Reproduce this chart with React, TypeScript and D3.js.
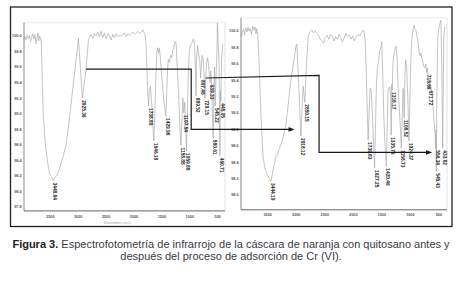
import React from 'react';
import * as d3 from 'd3';

// ---------- DATA ----------
const xTicks = [3500, 3000, 2500, 2000, 1500, 1000, 500];
const leftYTicks = [100.0, 99.8, 99.6, 99.4, 99.2, 99.0, 98.8, 98.6, 98.4, 98.2, 98.0, 97.8];
const rightYTicks = [100.0, 99.8, 99.6, 99.4, 99.2, 99.0, 98.8, 98.6, 98.4, 98.2, 98.0];

// before adsorption: [wavenumber cm-1, %T]
const leftBase: [number, number][] = [
  [3975, 99.96], [3955, 99.99], [3935, 99.95], [3915, 100.01], [3895, 99.97], [3875, 100.0], [3855, 99.93],
  [3835, 99.98], [3815, 100.03], [3795, 99.96], [3775, 100.02], [3755, 99.9], [3738, 99.98], [3722, 100.04],
  [3706, 99.94], [3690, 100.0], [3675, 99.97], [3660, 99.92], [3640, 99.3], [3625, 98.98], [3593, 98.64],
  [3550, 98.38], [3514, 98.23], [3475, 98.18], [3420, 98.18], [3390, 98.2], [3360, 98.24], [3325, 98.32],
  [3264, 98.47], [3218, 98.6], [3187, 98.77], [3157, 98.94], [3080, 99.43], [2996, 99.97], [2960, 99.58],
  [2890, 99.4], [2861, 99.56], [2818, 99.94], [2800, 99.98], [2770, 100.02], [2740, 99.97], [2710, 100.03],
  [2680, 100.0], [2650, 100.05], [2620, 99.99], [2590, 100.06], [2560, 99.98], [2530, 100.04], [2500, 99.96],
  [2470, 100.03], [2440, 100.0], [2410, 99.95], [2380, 100.02], [2350, 99.98], [2320, 100.03], [2290, 99.99],
  [2260, 100.01], [2230, 100.0], [2200, 100.02], [2170, 100.04], [2140, 99.99], [2110, 100.03], [2080, 100.01],
  [2050, 100.03], [2020, 100.05], [1990, 100.02], [1960, 100.04], [1930, 100.06], [1900, 100.03], [1870, 100.05],
  [1840, 100.08], [1820, 100.04], [1800, 100.02], [1785, 99.9], [1770, 99.6], [1752, 99.25], [1725, 99.3],
  [1705, 99.35], [1680, 99.1], [1662, 98.85], [1630, 98.95], [1610, 99.45], [1590, 99.8], [1575, 99.85],
  [1560, 99.78], [1545, 99.84], [1525, 99.7], [1500, 99.45], [1470, 99.2], [1445, 99.05], [1415, 99.25],
  [1400, 99.55], [1385, 99.7], [1365, 99.66], [1345, 99.75], [1325, 99.72], [1305, 99.82], [1285, 99.86],
  [1262, 99.93], [1245, 99.9], [1225, 99.6], [1200, 99.25], [1180, 98.85], [1140, 98.95], [1125, 99.2],
  [1090, 99.15], [1072, 98.8], [1045, 98.95], [1030, 99.45], [1010, 99.8], [995, 99.86], [975, 99.9],
  [955, 99.92], [935, 99.96], [915, 99.9], [900, 99.6], [880, 99.7], [860, 99.88], [840, 99.75], [822, 99.7],
  [795, 99.6], [780, 99.75], [765, 99.72], [745, 99.5], [715, 99.45], [700, 99.65], [680, 99.72], [660, 99.6],
  [625, 99.55], [605, 99.3], [592, 98.9], [570, 99.2], [558, 99.6], [530, 99.5], [515, 99.75], [505, 100.17],
  [475, 99.6], [452, 99.3], [430, 99.7], [410, 99.9],
];
const leftPeaks: [number, number][] = [
  [3448.84, 98.14], [2925.36, 99.2], [1738.8, 99.1], [1646.18, 98.65], [1429.98, 98.97], [1158.88, 98.59],
  [1107.54, 99.01], [1059.88, 98.52], [889.52, 99.23], [807.46, 99.46], [729.15, 99.2], [639.33, 99.4],
  [580.61, 98.69], [545.22, 99.1], [460.71, 98.46], [445.05, 99.16],
];

// after adsorption
const rightBase: [number, number][] = [
  [3965, 99.93], [3945, 99.98], [3925, 100.02], [3905, 99.95], [3885, 100.04], [3865, 99.99], [3845, 100.05],
  [3825, 100.0], [3805, 100.03], [3785, 99.96], [3765, 100.06], [3745, 100.01], [3725, 100.05], [3705, 99.97],
  [3690, 100.03], [3675, 99.95], [3650, 99.6], [3620, 98.98], [3580, 98.45], [3540, 98.3], [3500, 98.24],
  [3470, 98.2], [3399, 98.33], [3357, 98.47], [3329, 98.49], [3299, 98.57], [3259, 98.63], [3224, 98.73],
  [3182, 98.85], [3094, 99.4], [3006, 99.81], [2989, 99.84], [2960, 99.4], [2880, 99.33], [2820, 99.6],
  [2790, 99.95], [2760, 99.99], [2730, 100.01], [2700, 99.98], [2670, 100.0], [2640, 99.97], [2610, 99.95],
  [2580, 99.9], [2550, 99.88], [2520, 99.85], [2490, 99.92], [2460, 99.95], [2430, 99.9], [2400, 99.96],
  [2370, 99.93], [2340, 99.88], [2310, 99.93], [2280, 99.9], [2250, 99.96], [2220, 99.92], [2190, 99.87],
  [2160, 99.92], [2130, 99.97], [2100, 99.93], [2070, 99.95], [2040, 99.9], [2010, 99.94], [1980, 99.88],
  [1950, 99.93], [1920, 99.96], [1890, 99.94], [1860, 99.98], [1830, 100.01], [1815, 100.0], [1795, 99.92],
  [1775, 99.55], [1755, 99.0], [1722, 99.05], [1705, 99.3], [1685, 99.25], [1660, 98.9], [1640, 98.55],
  [1612, 98.8], [1595, 99.35], [1576, 99.55], [1560, 99.62], [1540, 99.75], [1520, 99.8], [1500, 99.87],
  [1485, 99.5], [1465, 98.95], [1440, 98.55], [1405, 98.85], [1392, 99.26], [1380, 99.3], [1360, 99.32],
  [1345, 99.2], [1326, 99.35], [1305, 99.6], [1290, 99.7], [1270, 99.78], [1252, 99.82], [1235, 99.7],
  [1215, 99.35], [1190, 99.0], [1170, 98.75], [1145, 98.9], [1128, 99.3], [1118, 99.2], [1095, 99.45],
  [1082, 99.65], [1065, 99.55], [1045, 99.2], [1010, 99.1], [995, 99.55], [980, 99.85], [963, 99.97],
  [945, 100.04], [933, 100.07], [918, 100.02], [903, 100.01], [890, 99.95], [875, 99.91], [860, 99.82],
  [846, 99.75], [830, 99.7], [816, 99.73], [800, 99.68], [788, 99.65], [770, 99.58], [750, 99.55],
  [728, 99.6], [705, 99.55], [690, 99.45], [680, 99.4], [660, 99.38], [641, 99.32], [625, 99.25], [610, 99.15],
  [595, 99.0], [580, 98.85], [566, 98.75], [550, 98.8], [535, 99.3], [520, 99.9], [505, 100.02], [480, 100.1],
  [465, 100.13], [450, 99.6], [415, 99.9], [400, 100.05],
];
const rightPeaks: [number, number][] = [
  [3444.19, 98.17], [2918.12, 98.72], [2850.15, 99.13], [1739.83, 98.67], [1627.25, 98.33], [1420.46, 98.35],
  [1335.75, 98.73], [1318.17, 99.28], [1158.73, 98.57], [1108.52, 98.94], [1024.37, 98.66], [715.69, 99.49],
  [671.72, 99.3], [556.34, 98.57], [545.43, 98.29], [433.82, 98.57],
];

// arrows: [panel, wavenumber, %T]
const arrowBefore: [number, number, number][] = [[0, 2860, 99.575], [0, 975, 99.575], [0, 975, 98.8], [1, 3030, 98.8]];
const arrowAfter: [number, number, number][] = [[0, 715, 99.46], [1, 2600, 99.46], [1, 2600, 98.52], [1, 620, 98.52]];

const captionBold = 'Figura 3.';
const captionLine1 = ' Espectrofotometría de infrarrojo de la cáscara de naranja con quitosano antes y';
const captionLine2 = 'después del proceso de adsorción de Cr (VI).';
const axisTitle = 'Wavenumbers (cm-1)';

// ---------- LAYOUT ----------
const panelsCfg = [
  { base: leftBase, peaks: leftPeaks, yTicks: leftYTicks, xRange: [22.4, 223.3], yDomain: [97.75, 100.17], yRange: [210.9, 22.8], axisX: 24, right: 225, labelEnd: 21.6, xLabelY: 217.6, title: true },
  { base: rightBase, peaks: rightPeaks, yTicks: rightYTicks, xRange: [239.2, 444.6], yDomain: [97.82, 100.16], yRange: [209.8, 17.9], axisX: 241, right: 447, labelEnd: 238.6, xLabelY: 216.3, title: false },
];

const scales = panelsCfg.map((p) => ({
  x: d3.scaleLinear().domain([4000, 400]).range(p.xRange),
  y: d3.scaleLinear().domain(p.yDomain).range(p.yRange),
}));

function arrowPath(pts: [number, number, number][]) {
  return pts.map(([p, wn, t]) => [scales[p].x(wn), scales[p].y(t)] as [number, number]);
}

export default function App() {
  const tickFont = "'Liberation Sans', Arial, sans-serif";
  return (
    <svg width={474} height={288} style={{ position: 'absolute', left: 0, top: 0, background: '#fff' }} xmlns="http://www.w3.org/2000/svg">
      <rect x={0} y={0} width={474} height={288} fill="#fff" />
      {panelsCfg.map((p, i) => {
        const { x, y } = scales[i];
        const all = [...p.base, ...p.peaks].sort((a, b) => b[0] - a[0]);
        const line = d3.line<[number, number]>().x((d) => x(d[0])).y((d) => y(d[1]));
        const top = p.yRange[1];
        const bottom = p.yRange[0];
        return (
          <g key={i}>
            <line x1={p.axisX} x2={p.right} y1={top} y2={top} stroke="#e6e6e6" strokeWidth={0.8} />
            <line x1={p.right} x2={p.right} y1={top} y2={bottom} stroke="#dcdcdc" strokeWidth={0.8} />
            <path d={line(all) || ''} fill="none" stroke="#ababab" strokeWidth={0.7} />
            <line x1={p.axisX} x2={p.axisX} y1={top} y2={bottom} stroke="#7a7a7a" strokeWidth={0.9} />
            <line x1={p.axisX} x2={p.right} y1={bottom} y2={bottom} stroke="#555" strokeWidth={0.9} />
            {p.yTicks.map((t) => (
              <text key={t} x={p.labelEnd} y={y(t)} dy="0.35em" textAnchor="end" fontSize={3.8} fontWeight="bold" fill="#555" fontFamily={tickFont}>
                {t.toFixed(1)}
              </text>
            ))}
            {xTicks.map((t) => (
              <text key={t} x={x(t)} y={p.xLabelY} textAnchor="middle" fontSize={3.8} fontWeight="bold" fill="#555" fontFamily={tickFont}>
                {t}
              </text>
            ))}
            {p.title && (
              <text x={x(2300)} y={223.5} textAnchor="middle" fontSize={2.8} fill="#999" fontFamily={tickFont}>
                {axisTitle}
              </text>
            )}
            {p.peaks.map(([wn, t]) => (
              <text key={wn} transform={`translate(${x(wn)},${y(t) + 2}) rotate(90)`} textAnchor="start" fontSize={4.8} fontWeight="bold" fill="#2a2a2a" fontFamily={tickFont}>
                {wn.toFixed(2)}
              </text>
            ))}
          </g>
        );
      })}
      {[arrowBefore, arrowAfter].map((a, k) => {
        const pts = arrowPath(a);
        const last = pts[pts.length - 1];
        const d = d3.line()(pts.slice(0, -1).concat([[last[0] - 4, last[1]]])) || '';
        return (
          <g key={k}>
            <path d={d} fill="none" stroke="#1a1a1a" strokeWidth={1.2} />
            <polygon points={`${last[0]},${last[1]} ${last[0] - 6},${last[1] - 2.4} ${last[0] - 6},${last[1] + 2.4}`} fill="#1a1a1a" />
          </g>
        );
      })}
      <rect x={10.5} y={7} width={441.5} height={219.5} fill="none" stroke="#222" strokeWidth={1.3} />
      <text x={231} y={248} textAnchor="middle" fontSize={11} fill="#3a3a44" fontFamily={tickFont}>
        <tspan fontWeight="bold" fill="#222">{captionBold}</tspan>
        <tspan>{captionLine1}</tspan>
      </text>
      <text x={231} y={259.5} textAnchor="middle" fontSize={11} fill="#3a3a44" fontFamily={tickFont}>
        {captionLine2}
      </text>
    </svg>
  );
}
